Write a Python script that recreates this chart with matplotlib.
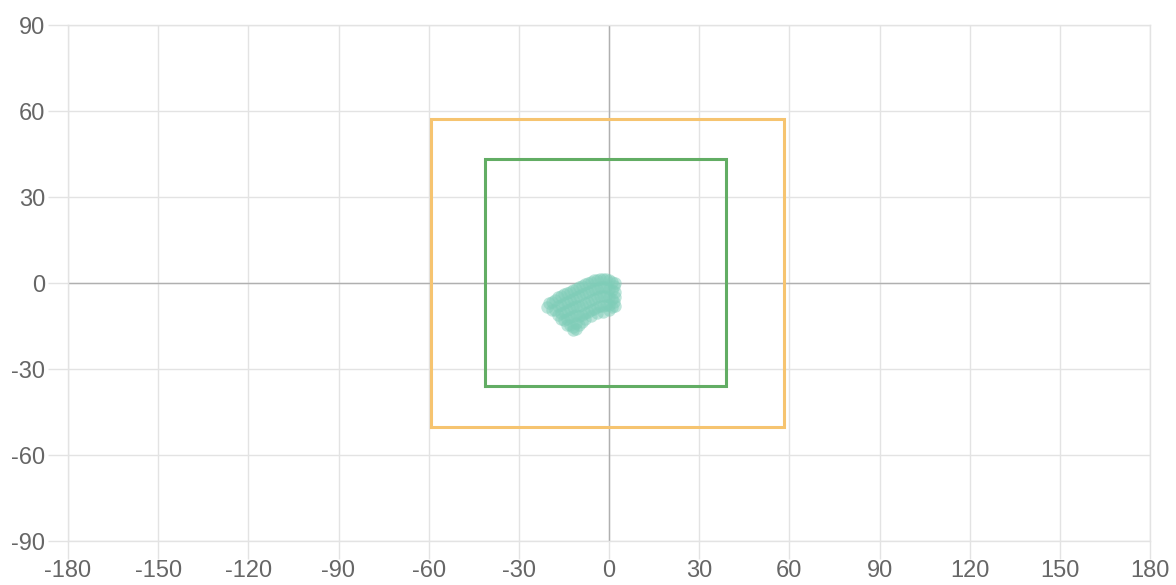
import matplotlib
matplotlib.use("Agg")
import matplotlib.pyplot as plt

# ---------- Data ----------
x_ticks = [-180, -150, -120, -90, -60, -30, 0, 30, 60, 90, 120, 150, 180]
y_ticks = [-90, -60, -30, 0, 30, 60, 90]

# outer (orange) and inner (green) boxes: [x_min, x_max, y_min, y_max]
outer_box = [-59.3, 58.3, -50.2, 57.1]
inner_box = [-41.3, 39.0, -35.9, 43.2]

# scatter points (lon, lat)
pts_x = [-20.5, -20, -19, -19, -18, -18, -17, -17, -17, -16, -16, -16, -16,
         -15, -15, -15, -15, -14, -14, -14, -14, -13, -13, -13, -13, -13,
         -12, -12, -12, -12, -12, -11, -11, -11, -11, -11, -10, -10, -10, -10,
         -9, -9, -9, -9, -8, -8, -8, -8, -7, -7, -7, -7, -6, -6, -6, -6,
         -5, -5, -5, -5, -4, -4, -4, -4, -3, -3, -3, -3, -2, -2, -2, -2,
         -1, -1, -1, -1, 0, 0, 0, 0, 1, 1, 1, 1.5, 1.5, 2, 2, 2,
         1, 2, 0, -2, -4, -6, -8, -10, -12, -14, -11, -9]
pts_y = [-8.5, -7, -9.5, -6.5, -6, -9.5, -5, -8, -11, -4.5, -7.5, -10.5, -12.5,
         -4, -7, -10, -13, -3.5, -6.5, -9.5, -12.5, -3, -6, -9, -12, -14.5,
         -2.5, -5.5, -8.5, -11.5, -15.5, -2, -5, -8, -11, -14, -1.5, -4.5, -8, -11.5,
         -1, -4, -7.5, -11, -0.5, -3.5, -7, -10.5, 0, -3, -6.5, -10, 0.5, -2.5, -6, -9.5,
         1, -2, -5.5, -9, 1, -2, -5, -8.5, 1.5, -1.5, -4.5, -8, 1.5, -1.5, -4.5, -8,
         1.5, -1.5, -4.5, -7.5, 1, -2, -5, -7.5, 0.5, -2.5, -5.5, -1, -6.5, 0, -3, -5,
         -8.5, -8, -9.5, -10, -10.5, -11.5, -12.5, -14.5, -16.5, -14.5, -16, -13.5]

# ---------- Plot ----------
plt.rcParams["font.family"] = ["Liberation Sans", "DejaVu Sans"]
plt.rcParams["axes.unicode_minus"] = False
GRID = "#e3e3e3"
ZERO = "#b0b0b0"
TXT = "#666666"

fig = plt.figure(figsize=(11.76, 5.85), dpi=100)
ax = fig.add_axes([68 / 1176, 1 - 541 / 585, (1150 - 68) / 1176, (541 - 25) / 585])

ax.set_xlim(-180, 180)
ax.set_ylim(-90, 90)
ax.set_xticks(x_ticks)
ax.set_yticks(y_ticks)
ax.grid(True, color=GRID, linewidth=1.0, zorder=0)
ax.axhline(0, color=ZERO, linewidth=1.0, zorder=1)
ax.axvline(0, color=ZERO, linewidth=1.0, zorder=1)
for s in ax.spines.values():
    s.set_color(GRID)
    s.set_linewidth(1.0)
ax.tick_params(axis="y", length=14.4, width=1.0, color=GRID, pad=2, labelsize=17, labelcolor=TXT)
ax.tick_params(axis="x", length=13, width=1.0, color=GRID, pad=1, labelsize=17, labelcolor=TXT)
ax.set_axisbelow(True)

def draw_box(box, color):
    x0, x1, y0, y1 = box
    ax.plot([x0, x1, x1, x0, x0], [y0, y0, y1, y1, y0], color=color,
            linewidth=2.2, solid_joinstyle="miter", zorder=3)

draw_box(outer_box, "#f6c470")
draw_box(inner_box, "#62ad64")

ax.scatter(pts_x, pts_y, s=80, color="#7fcdb8", alpha=0.5, linewidths=0, zorder=4)

fig.savefig("out.png", dpi=100)
